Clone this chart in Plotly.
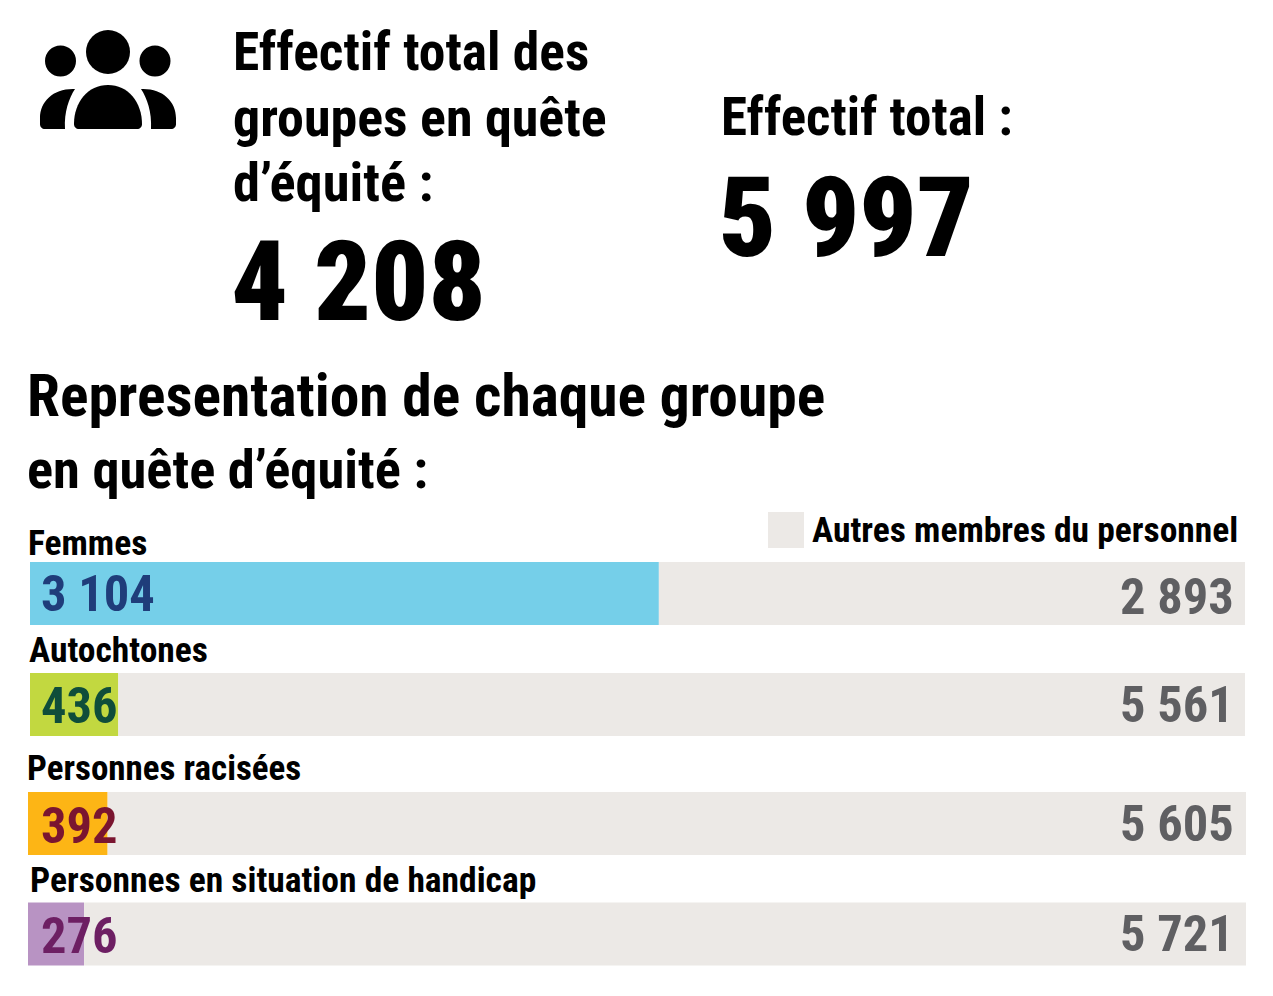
import plotly.graph_objects as go

# Workforce figures
categories = ["Femmes", "Autochtones", "Personnes racisées", "Personnes en situation de handicap"]
group_counts = [3104, 436, 392, 276]
other_counts = [2893, 5561, 5605, 5721]
equity_total = 4208
overall_total = 5997
legend_label = "Autres membres du personnel"

# Page geometry and styling
W, H = 1273, 996
NARROW = "Roboto Condensed"
BLACK = "#000000"
REST_COLOR = "#ece9e6"
REST_TEXT = "#5f5f62"
fill_colors = ["#75cfe9", "#c2d840", "#fdb515", "#b893c3"]
text_colors = ["#1f3d7a", "#0f4d3a", "#7a1530", "#6d1f63"]
row_centres = [593.5, 704.5, 823.5, 934]
row_axes = ["x", "x", "x2", "x2"]
row_label_pos = [(26.5, 543), (27.5, 650), (25.5, 768), (28.5, 880)]
row_label_size = [35.5, 35.5, 35, 35.5]
group_value_nudge = [0, 1, 2, 1]
other_value_nudge = [2, -1, -1, -2]


def px(x):
    return x / W


def py(y):
    return 1 - y / H


def spaced(n):
    return f"{n:,}".replace(",", " ")


fig = go.Figure()
for i, name in enumerate(categories):
    fig.add_trace(go.Bar(x=[group_counts[i]], y=[row_centres[i]], orientation="h", width=63,
                         xaxis=row_axes[i], yaxis="y", marker=dict(color=fill_colors[i], line_width=0),
                         name=name, showlegend=False, hoverinfo="x+name"))
    fig.add_trace(go.Bar(x=[other_counts[i]], y=[row_centres[i]], base=[group_counts[i]], orientation="h", width=63,
                         xaxis=row_axes[i], yaxis="y", marker=dict(color=REST_COLOR, line_width=0),
                         name=legend_label, showlegend=False, hoverinfo="x+name"))


def label(text, x, y, size, color=BLACK, anchor="left", weight=700):
    fig.add_annotation(text=text, xref="paper", yref="paper", x=px(x), y=py(y), xanchor=anchor, yanchor="middle",
                       showarrow=False, borderpad=0,
                       font=dict(family=NARROW, size=size, color=color, weight=weight))


# Headline block
label("Effectif total des", 232, 52, 53.5)
label("groupes en quête", 232, 117, 54)
label("d’équité :", 232, 182, 54.5)
label(spaced(equity_total), 230, 282, 112, weight=900)
label("Effectif total :", 720, 117, 53)
label(spaced(overall_total), 718, 217, 112, weight=900)
label("Representation de chaque groupe", 26, 396, 59.5)
label("en quête d’équité :", 26, 469, 54.5)
label(legend_label, 811, 530, 35.5)

# Row captions and values
for i, name in enumerate(categories):
    lx, ly = row_label_pos[i]
    label(name, lx, ly, row_label_size[i])
    label(spaced(group_counts[i]), 39.5, row_centres[i] + group_value_nudge[i], 50.5, color=text_colors[i])
    label(spaced(other_counts[i]), 1235, row_centres[i] + other_value_nudge[i] + 1, 50.5, color=REST_TEXT, anchor="right")

# Legend swatch and group icon: three heads and three shoulders
shapes = [dict(type="rect", xref="paper", yref="paper", x0=px(768), x1=px(804), y0=py(548), y1=py(512),
               fillcolor=REST_COLOR, line_width=0, layer="below")]
for cx, cy, r in [(108, 52, 22), (60.5, 61, 15.5), (155, 61, 15.5)]:
    shapes.append(dict(type="circle", xref="paper", yref="paper", x0=px(cx - r), x1=px(cx + r),
                       y0=py(cy + r), y1=py(cy - r), fillcolor=BLACK, line_width=0))


def outline(commands):
    parts = []
    for cmd, pts in commands:
        parts.append(cmd + " ".join(f"{px(x):.5f},{py(y):.5f}" for x, y in pts))
    return " ".join(parts) + " Z"


body = [("M", [(79, 129)]), ("C", [(76, 129), (74, 127), (74, 124)]),
        ("C", [(74, 102), (88, 85), (108, 85)]), ("C", [(128, 85), (142, 102), (142, 124)]),
        ("C", [(142, 127), (140, 129), (137, 129)])]
left = [("M", [(65, 129)]), ("L", [(45, 129)]), ("C", [(42, 129), (40, 127), (40, 124)]), ("L", [(40, 118)]),
        ("C", [(40, 101), (54, 88), (75, 89)]), ("C", [(69, 98), (64, 112), (65, 129)])]
right = [("M", [(151, 129)]), ("L", [(171, 129)]), ("C", [(174, 129), (176, 127), (176, 124)]), ("L", [(176, 118)]),
         ("C", [(176, 101), (162, 88), (141, 89)]), ("C", [(147, 98), (152, 112), (151, 129)])]
for part in (body, left, right):
    shapes.append(dict(type="path", xref="paper", yref="paper", path=outline(part), fillcolor=BLACK, line_width=0))

hidden = dict(visible=False, fixedrange=True)
fig.update_layout(
    width=W, height=H, margin=dict(l=0, r=0, t=0, b=0), paper_bgcolor="white", plot_bgcolor="rgba(0,0,0,0)",
    barmode="overlay", shapes=shapes,
    xaxis=dict(domain=[px(30), px(1245)], range=[0, overall_total], anchor="y", **hidden),
    xaxis2=dict(domain=[px(28), px(1246)], range=[0, overall_total], anchor="y", **hidden),
    yaxis=dict(domain=[0, 1], range=[H, 0], **hidden),
)
fig.write_html("out.html")
